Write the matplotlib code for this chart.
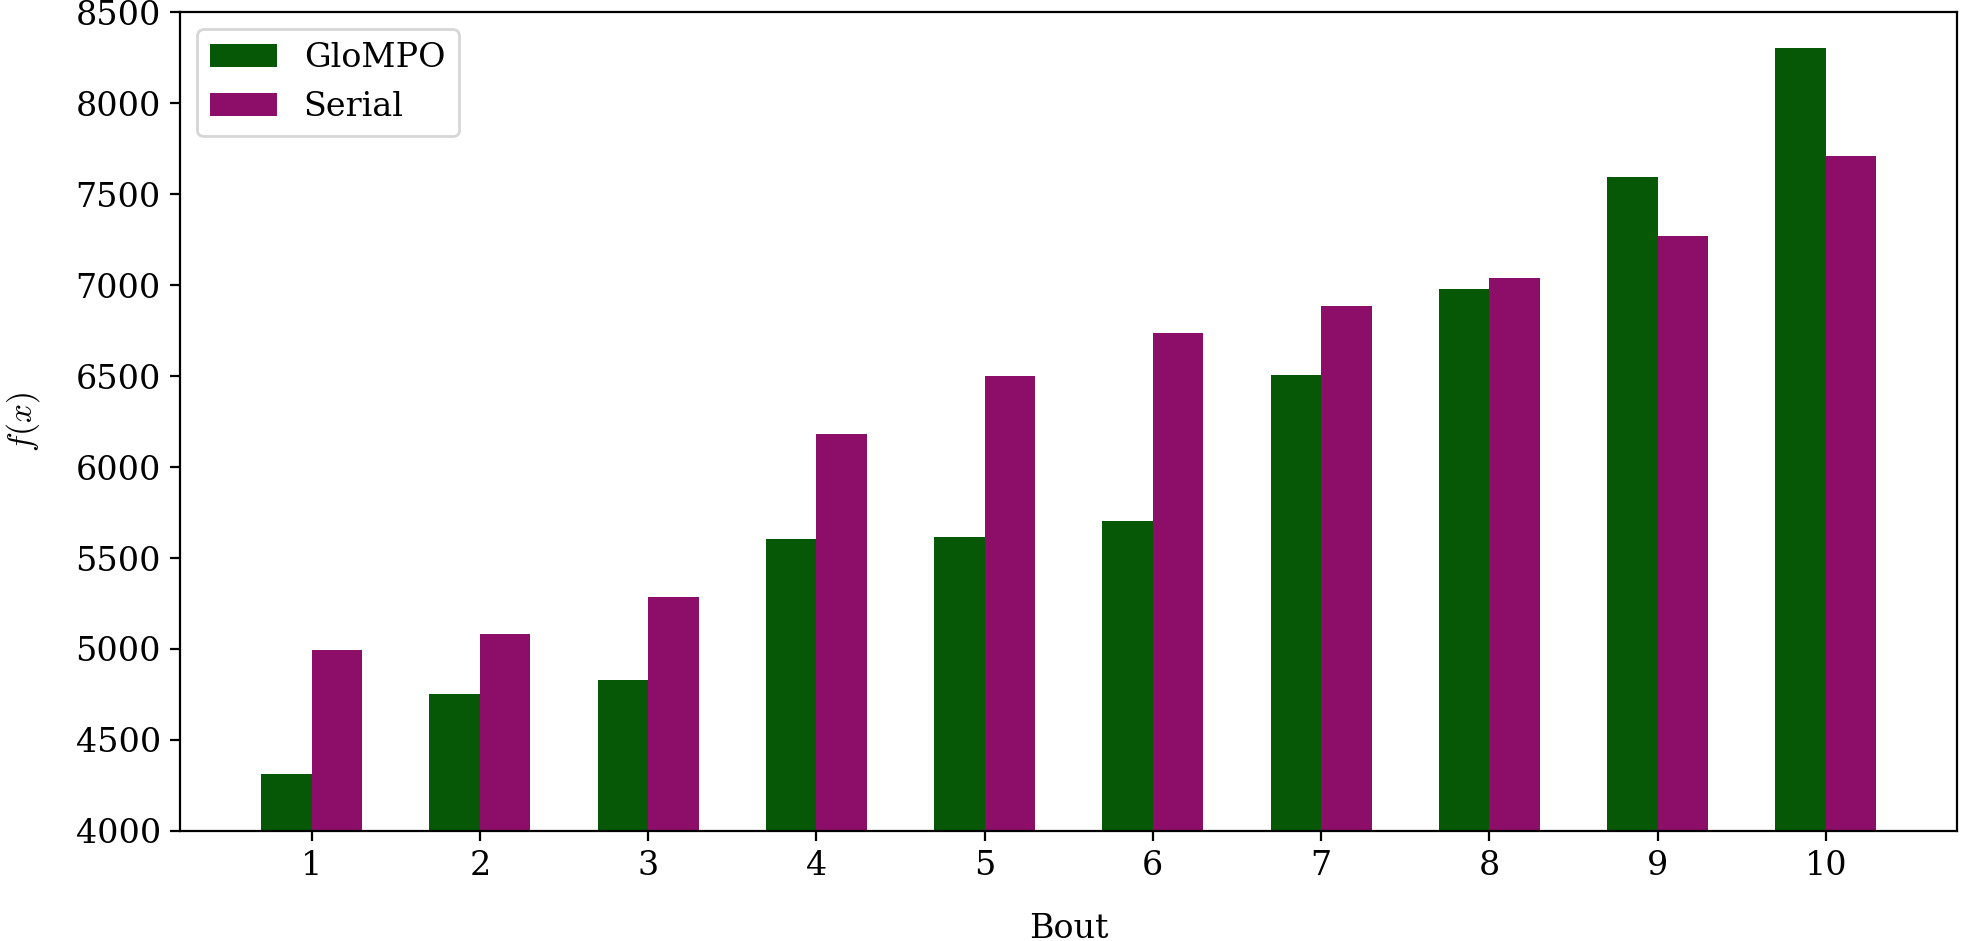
import matplotlib
matplotlib.use('Agg')
import matplotlib.pyplot as plt
import numpy as np

# Bout numbers and function values.
BOUTS = [1, 2, 3, 4, 5, 6, 7, 8, 9, 10]
GLOMPO = [4313, 4753, 4830, 5603, 5615, 5703, 6504, 6976, 7593, 8305]
SERIAL = [4992, 5082, 5287, 6181, 6498, 6735, 6885, 7040, 7269, 7709]

GREEN = '#065806'
PURPLE = '#8c0e69'
WIDTH = 0.3

plt.rcParams['font.family'] = 'DejaVu Serif'
plt.rcParams['font.size'] = 12
plt.rcParams['mathtext.fontset'] = 'cm'

fig, ax = plt.subplots(figsize=(9.805, 4.705), dpi=200)
x = np.array(BOUTS)
ax.bar(x - WIDTH / 2, GLOMPO, WIDTH, color=GREEN, label='GloMPO')
ax.bar(x + WIDTH / 2, SERIAL, WIDTH, color=PURPLE, label='Serial')

ax.set_ylim(4000, 8500)
ax.set_yticks(range(4000, 8501, 500))
ax.set_xticks(BOUTS)
ax.set_xlabel('Bout', labelpad=11)
ax.set_ylabel('$f(x)$', labelpad=12)
ax.legend(loc='upper left')

fig.subplots_adjust(left=0.092, right=0.998, top=0.987, bottom=0.117)
fig.savefig('out.png')
